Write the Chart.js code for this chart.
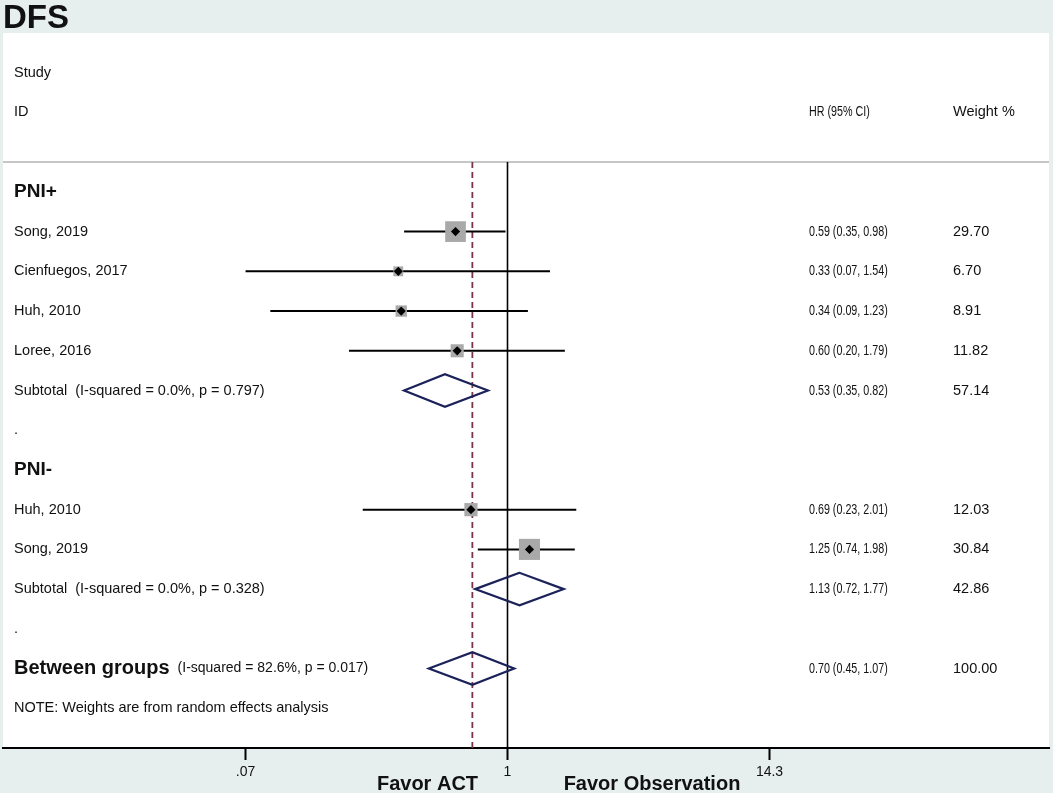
<!DOCTYPE html>
<html lang="en">
<head>
<meta charset="UTF-8">
<title>DFS</title>
<script src="https://cdn.jsdelivr.net/npm/chart.js@4.4.1/dist/chart.umd.min.js"></script>
<style>
    html, body { margin: 0; padding: 0; background: #e6eeee; }
    #wrap { width: 1053px; height: 793px; }
</style>
</head>
<body>
<div id="wrap"><canvas id="forest"></canvas></div>
<script>
// data
const groups = ['PNI+', 'PNI-'];
const studies = ['Song, 2019', 'Cienfuegos, 2017', 'Huh, 2010', 'Loree, 2016', 'Huh, 2010', 'Song, 2019'];
const studyGroup = [0, 0, 0, 0, 1, 1];
const hr = [0.59, 0.33, 0.34, 0.60, 0.69, 1.25];
const lo = [0.35, 0.07, 0.09, 0.20, 0.23, 0.74];
const hi = [0.98, 1.54, 1.23, 1.79, 2.01, 1.98];
const weights = [29.70, 6.70, 8.91, 11.82, 12.03, 30.84];

const subHr = [0.53, 1.13];
const subLo = [0.35, 0.72];
const subHi = [0.82, 1.77];
const subWeight = [57.14, 42.86];
const subI2 = ['0.0%', '0.0%'];
const subP = ['0.797', '0.328'];

const allHr = 0.70, allLo = 0.45, allHi = 1.07, allWeight = 100.00;
const allI2 = '82.6%', allP = '0.017';

const tickValues = [0.07, 1, 14.3];
const tickLabels = ['.07', '1', '14.3'];

const FONT = '"Liberation Sans", Arial, Helvetica, sans-serif';
const BG = '#e6eeee';
const NAVY = '#1b2259';

let fmt = (v) => v.toFixed(2);
let ciText = (e, l, h) => `${fmt(e)} (${fmt(l)}, ${fmt(h)})`;

// row layout built from the structure: header, groups, overall, note
let rows = [];
let studyRow = [];
let subRow = [];
let r = 3;
groups.forEach((g, gi) => {
    rows.push({ row: r++, kind: 'group', text: g });
    studies.forEach((s, i) => {
        if (studyGroup[i] !== gi) return;
        studyRow[i] = r;
        rows.push({ row: r++, kind: 'study', text: s, ci: ciText(hr[i], lo[i], hi[i]), w: fmt(weights[i]) });
    });
    subRow[gi] = r;
    rows.push({ row: r++, kind: 'study', text: `Subtotal  (I-squared = ${subI2[gi]}, p = ${subP[gi]})`,
        ci: ciText(subHr[gi], subLo[gi], subHi[gi]), w: fmt(subWeight[gi]) });
    rows.push({ row: r++, kind: 'study', text: '.' });
});
const allRow = r++;
const noteRow = r++;
const axisRow = r;      // bottom of the plot panel
const sepRow = 2.25;    // header separator

let datasets = [];

// vertical reference lines
datasets.push({
    data: [{ x: 1, y: sepRow }, { x: 1, y: axisRow }],
    showLine: true, borderColor: '#000', borderWidth: 1.6, pointRadius: 0, order: 5
});
datasets.push({
    data: [{ x: allHr, y: sepRow }, { x: allHr, y: axisRow }],
    showLine: true, borderColor: '#7a3446', borderWidth: 1.8, borderDash: [6, 4], pointRadius: 0, order: 5
});

// confidence intervals
studies.forEach((s, i) => {
    datasets.push({
        data: [{ x: lo[i], y: studyRow[i] }, { x: hi[i], y: studyRow[i] }],
        showLine: true, borderColor: '#000', borderWidth: 2, pointRadius: 0, order: 4
    });
});

// weight squares, side ~ sqrt(weight)
datasets.push({
    data: studies.map((s, i) => ({ x: hr[i], y: studyRow[i] })),
    pointStyle: 'rect',
    pointRadius: weights.map(w => 3.8 * Math.sqrt(w) / Math.SQRT2),
    backgroundColor: '#a9a9a9', borderWidth: 0, order: 2
});

// point estimate markers
datasets.push({
    data: studies.map((s, i) => ({ x: hr[i], y: studyRow[i] })),
    pointStyle: 'rectRot', pointRadius: 4.6,
    backgroundColor: '#000', borderWidth: 0, order: 1
});

// pooled diamonds
let diamond = (e, l, h, row) => {
    const d = 0.41;
    return [{ x: l, y: row }, { x: e, y: row - d }, { x: h, y: row }, { x: e, y: row + d },
        { x: l, y: row }, { x: e, y: row - d }];
};
groups.forEach((g, gi) => {
    datasets.push({
        data: diamond(subHr[gi], subLo[gi], subHi[gi], subRow[gi]),
        showLine: true, borderColor: NAVY, borderWidth: 2.2, borderJoinStyle: 'miter',
        pointRadius: 0, order: 3
    });
});
datasets.push({
    data: diamond(allHr, allLo, allHi, allRow),
    showLine: true, borderColor: NAVY, borderWidth: 2.2, borderJoinStyle: 'miter',
    pointRadius: 0, order: 3
});

// HR column text is set narrower than the rest
let condensed = (ctx, text, x, y, k) => {
    ctx.save();
    ctx.translate(x, y);
    ctx.scale(k, 1);
    ctx.fillText(text, 0, 0);
    ctx.restore();
};

// panel background, title, separator
const panelPlugin = {
    id: 'panel',
    beforeDraw(chart) {
        const { ctx, chartArea: a, width, height } = chart;
        ctx.save();
        ctx.fillStyle = BG;
        ctx.fillRect(0, 0, width, height);
        ctx.fillStyle = '#fff';
        ctx.fillRect(a.left, a.top, a.right - a.left, a.bottom - a.top);
        const ys = chart.scales.y.getPixelForValue(sepRow);
        ctx.strokeStyle = '#b3b3b3';
        ctx.lineWidth = 1.5;
        ctx.beginPath();
        ctx.moveTo(a.left, ys);
        ctx.lineTo(a.right, ys);
        ctx.stroke();
        ctx.restore();
    },
    afterDraw(chart) {
        const { ctx } = chart;
        const y = (row) => chart.scales.y.getPixelForValue(row);
        const colLabel = 14, colCi = 809, colW = 953, kCi = 0.74;
        ctx.save();
        ctx.fillStyle = '#111';
        ctx.textBaseline = 'alphabetic';
        ctx.font = `bold 33px ${FONT}`;
        ctx.fillText('DFS', 3, 28);

        ctx.textBaseline = 'middle';
        ctx.font = `14.5px ${FONT}`;
        ctx.fillText('Study', colLabel, y(0));
        ctx.fillText('ID', colLabel, y(1));
        condensed(ctx, 'HR (95% CI)', colCi, y(1), kCi);
        ctx.fillText('Weight %', colW, y(1));

        rows.forEach(rw => {
            if (rw.kind === 'group') {
                ctx.font = `bold 19px ${FONT}`;
                ctx.fillText(rw.text, colLabel, y(rw.row));
                return;
            }
            ctx.font = `14.5px ${FONT}`;
            ctx.fillText(rw.text, colLabel, y(rw.row));
            if (rw.ci) condensed(ctx, rw.ci, colCi, y(rw.row), kCi);
            if (rw.w) ctx.fillText(rw.w, colW, y(rw.row));
        });

        ctx.font = `bold 20px ${FONT}`;
        ctx.fillText('Between groups', colLabel, y(allRow));
        const bw = ctx.measureText('Between groups').width;
        ctx.font = `14px ${FONT}`;
        ctx.fillText(`(I-squared = ${allI2}, p = ${allP})`, colLabel + bw + 8, y(allRow));
        ctx.font = `14.5px ${FONT}`;
        condensed(ctx, ciText(allHr, allLo, allHi), colCi, y(allRow), kCi);
        ctx.fillText(fmt(allWeight), colW, y(allRow));
        ctx.fillText('NOTE: Weights are from random effects analysis', colLabel, y(noteRow));

        ctx.font = `bold 20px ${FONT}`;
        ctx.textAlign = 'center';
        ctx.textBaseline = 'alphabetic';
        ctx.fillText('Favor ACT', 427.5, 790);
        ctx.fillText('Favor Observation', 652, 790);
        ctx.restore();
    }
};

// x scale: log, 1 at 507.5px, 98.5px per ln unit across panel 3..1049
const pxPerLn = 98.5, px1 = 507.5 - 3, panelW = 1046;
const xMin = Math.exp(-px1 / pxPerLn);
const xMax = Math.exp((panelW - px1) / pxPerLn);

new Chart(document.getElementById('forest'), {
    type: 'scatter',
    data: { datasets: datasets },
    options: {
        responsive: true,
        maintainAspectRatio: false,
        animation: false,
        events: [],
        layout: { autoPadding: false, padding: { left: 3, right: 4, top: 33, bottom: 0 } },
        plugins: { legend: { display: false }, tooltip: { enabled: false } },
        scales: {
            x: {
                type: 'logarithmic',
                min: xMin,
                max: xMax,
                afterBuildTicks: (s) => { s.ticks = tickValues.map(v => ({ value: v })); },
                afterFit: (s) => { s.height = 45; },
                grid: { display: true, drawOnChartArea: false, drawTicks: true, tickLength: 12, tickColor: '#000', tickWidth: 2 },
                border: { display: true, color: '#000', width: 2 },
                ticks: {
                    autoSkip: false, maxRotation: 0, padding: 4, color: '#111',
                    font: { family: FONT, size: 14 },
                    callback: (v) => tickLabels[tickValues.indexOf(v)]
                }
            },
            y: {
                type: 'linear', min: -1, max: axisRow, reverse: true, display: false
            }
        }
    },
    plugins: [panelPlugin]
});
</script>
</body>
</html>
